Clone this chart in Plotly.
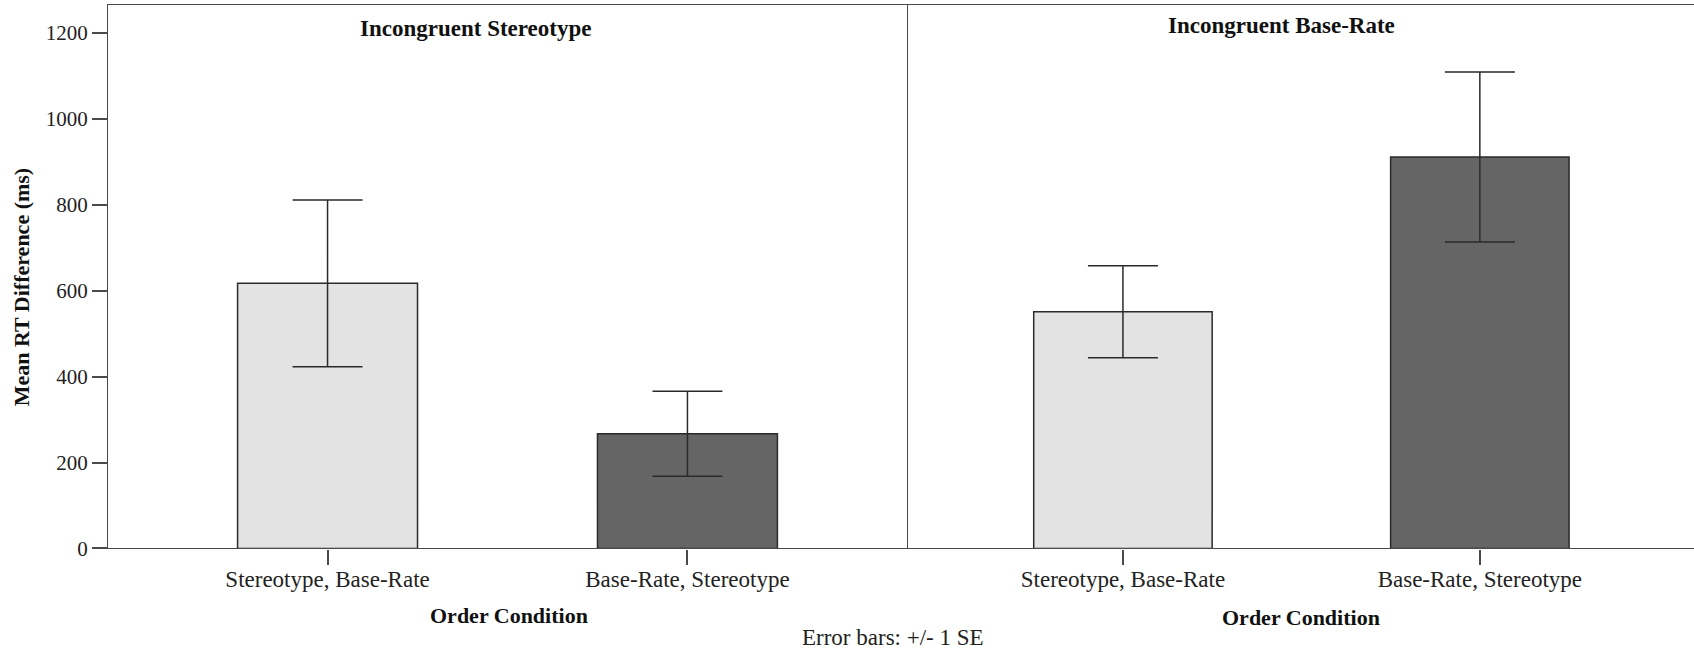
import plotly.graph_objects as go

categories = ["Stereotype, Base-Rate", "Base-Rate, Stereotype"]
panel_titles = ["Incongruent Stereotype", "Incongruent Base-Rate"]
stereotype_means = [617, 267]
stereotype_se = [194, 99]
baserate_means = [551, 911]
baserate_se = [107, 198]
y_ticks = [0, 200, 400, 600, 800, 1000, 1200]
bar_colors = ["#e3e3e3", "#656565"]

W, H = 1694, 663
FONT = "Liberation Serif, Times New Roman, serif"
LINE = "#4a4a4a"

def px(x):
    return x / W

def py(y):
    return 1 - y / H

fig = go.Figure()

for i, (means, se) in enumerate([(stereotype_means, stereotype_se), (baserate_means, baserate_se)]):
    fig.add_trace(go.Bar(
        x=categories, y=means,
        xaxis="x" if i == 0 else "x2", yaxis="y" if i == 0 else "y2",
        width=0.5,
        marker=dict(color=bar_colors, line=dict(color="#2a2a2a", width=1.5)),
        error_y=dict(type="data", array=se, visible=True, color="#2a2a2a", thickness=1.5, width=35),
        showlegend=False, hoverinfo="x+y",
    ))

ydom = [py(558.6), py(5)]
xd1 = [px(108), px(907)]
xd2 = [px(907), 1.0]

tickfont = dict(family=FONT, size=21, color="#222")
catfont = dict(family=FONT, size=23, color="#222")
axis_common = dict(showline=True, linecolor=LINE, linewidth=1.3, showgrid=False, zeroline=False)

fig.update_layout(
    width=W, height=H,
    margin=dict(l=0, r=0, t=0, b=0),
    plot_bgcolor="white", paper_bgcolor="white",
    xaxis=dict(domain=xd1, anchor="y", range=[-0.61, 1.61], mirror=True, tickfont=catfont,
               ticks="outside", ticklen=15, tickcolor=LINE, tickwidth=1.5, ticklabelstandoff=-5,
               **axis_common),
    xaxis2=dict(domain=xd2, anchor="y2", range=[-0.605, 1.6], mirror=True, tickfont=catfont,
                ticks="outside", ticklen=15, tickcolor=LINE, tickwidth=1.5, ticklabelstandoff=-5,
                **axis_common),
    yaxis=dict(domain=ydom, anchor="x", range=[0, 1265], mirror=True, tickvals=y_ticks, tickfont=tickfont,
               ticks="outside", ticklen=15, tickcolor=LINE, tickwidth=1.5, **axis_common),
    yaxis2=dict(domain=ydom, anchor="x2", range=[0, 1265], showticklabels=False, ticks="",
                showline=False, showgrid=False, zeroline=False),
)

bold = dict(family=FONT, size=23, color="#111")
bold_y = dict(family=FONT, size=22, color="#111")
reg = dict(family=FONT, size=23, color="#222")
ann = [
    dict(text="<b>" + panel_titles[0] + "</b>", x=px(475), y=py(29), font=bold),
    dict(text="<b>" + panel_titles[1] + "</b>", x=px(1281), y=py(26), font=bold),
    dict(text="<b>Order Condition</b>", x=px(509), y=py(627), font=bold_y),
    dict(text="<b>Order Condition</b>", x=px(1301), y=py(629), font=bold_y),
    dict(text="Error bars: +/- 1 SE", x=px(893), y=py(649), font=reg),
    dict(text="<b>Mean RT Difference (ms)</b>", x=px(21.6), y=py(292), font=bold_y, textangle=-90),
]
for a in ann:
    fig.add_annotation(xref="paper", yref="paper", showarrow=False, xanchor="center", yanchor="middle", **a)

fig.write_html("out.html", config={"displayModeBar": False},
               post_script="document.body.style.margin='0';document.body.style.overflow='hidden';")
